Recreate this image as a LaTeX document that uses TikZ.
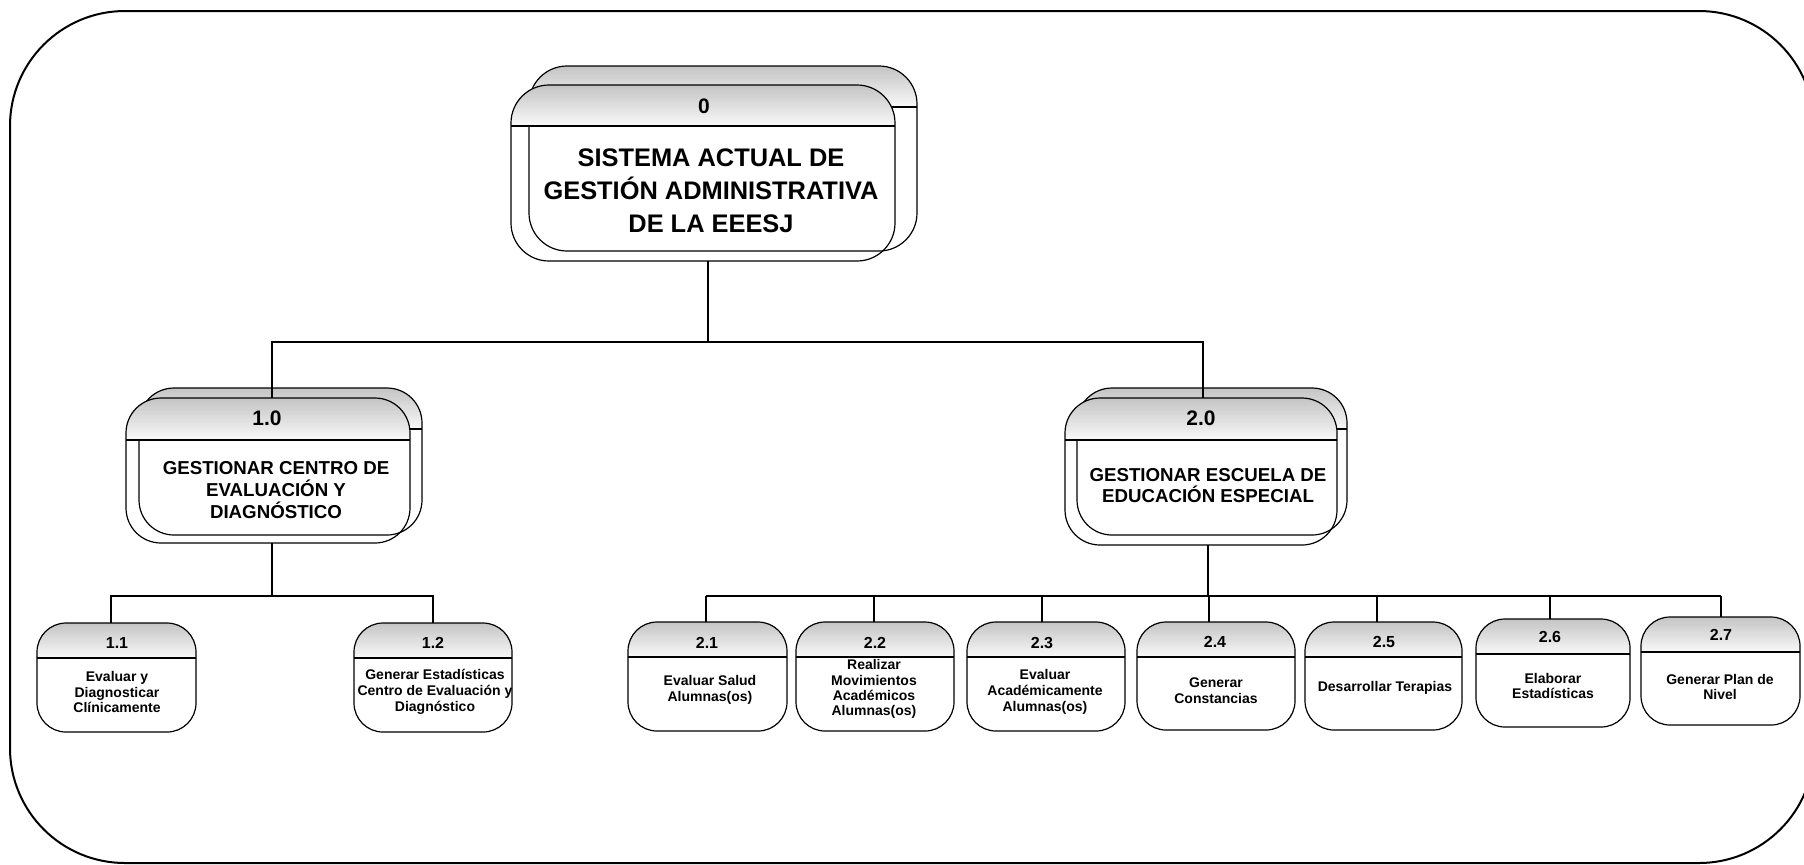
\documentclass[tikz,border=0pt]{standalone}
\usepackage{fontspec}
\setmainfont{Liberation Sans}
\definecolor{hdrtop}{RGB}{196,196,196}
\definecolor{hdrbot}{RGB}{247,247,247}
\tikzset{
  procbox/.style={draw=black, line width=0.6pt, rounded corners=#1, inner sep=0pt, outer sep=0pt, fill=white},
  procfront/.style={draw=black, line width=0.6pt, rounded corners=#1, inner sep=0pt, outer sep=0pt},
  hdr/.style={path picture={
      \foreach \i in {0,...,31} {
        \pgfmathtruncatemacro{\pct}{100-\i*100/31}
        \pgfmathsetlengthmacro{\ya}{-\i*#1/32}
        \pgfmathsetlengthmacro{\yb}{-(\i+1)*#1/32-0.3pt}
        \fill[sharp corners, hdrtop!\pct!hdrbot] ([yshift=\ya]path picture bounding box.north west) rectangle ([yshift=\yb]path picture bounding box.north east);
      }
      \pgfmathsetlengthmacro{\yh}{-#1}
      \draw[sharp corners, line width=0.6pt] ([yshift=\yh]path picture bounding box.north west) -- ([yshift=\yh]path picture bounding box.north east);
  }},
  conn/.style={draw=black, line width=0.55pt},
  numbig/.style={font=\fontsize{10.5}{12}\selectfont\bfseries, inner sep=0pt},
  numsmall/.style={font=\fontsize{8}{9}\selectfont\bfseries, inner sep=0pt},
  ttop/.style={font=\fontsize{12.7}{16.5}\selectfont\bfseries, align=center, inner sep=0pt},
  tmid/.style={font=\fontsize{9.35}{10.9}\selectfont\bfseries, align=center, inner sep=0pt},
  tsmall/.style={font=\fontsize{7}{7.9}\selectfont\bfseries, align=center, inner sep=0pt},
}
\begin{document}
\begin{tikzpicture}[x=0.5pt, y=-0.5pt]
\useasboundingbox (0,0) rectangle (1804,864);
\clip (0,0) rectangle (1804,864);
% outer frame
\draw[line width=1pt, rounded corners=57.5pt] (10,11) rectangle (1814,863);

% back shapes
\node[procbox=19pt, hdr=20.5pt, minimum width=194pt, minimum height=92.5pt] (n0b) at (723,158.5) {};
\node[procbox=17.5pt, hdr=20.5pt, minimum width=141.5pt, minimum height=73.5pt] (n1b) at (280.5,461.5) {};
\node[procbox=17.5pt, hdr=20.5pt, minimum width=135pt, minimum height=73.5pt] (n2b) at (1212,461.5) {};

% front shapes
\node[procfront=19pt, hdr=20.5pt, minimum width=192pt, minimum height=88pt] (n0) at (703,173) {};
\node[procfront=17.5pt, hdr=21pt, minimum width=142pt, minimum height=72.5pt] (n1) at (268,470.5) {};
\node[procfront=17.5pt, hdr=21pt, minimum width=136pt, minimum height=73.5pt] (n2) at (1201,471.5) {};

% small boxes
\node[procbox=14.5pt, hdr=17.5pt, minimum width=79.5pt, minimum height=54.5pt] (n11) at (116.5,677.5) {};
\node[procbox=14.5pt, hdr=17.5pt, minimum width=79pt, minimum height=54.5pt] (n12) at (433,677.5) {};
\node[procbox=14.5pt, hdr=17.5pt, minimum width=79.5pt, minimum height=54.5pt] (n21) at (707.5,676.5) {};
\node[procbox=14.5pt, hdr=17.5pt, minimum width=79pt, minimum height=54.5pt] (n22) at (875,676.5) {};
\node[procbox=14.5pt, hdr=17.5pt, minimum width=79pt, minimum height=54.5pt] (n23) at (1046,676.5) {};
\node[procbox=14.5pt, hdr=17.5pt, minimum width=79pt, minimum height=54pt] (n24) at (1216,676) {};
\node[procbox=14.5pt, hdr=17.5pt, minimum width=78.5pt, minimum height=54pt] (n25) at (1383.5,676) {};
\node[procbox=14.5pt, hdr=17.5pt, minimum width=77pt, minimum height=54pt] (n26) at (1553,673) {};
\node[procbox=14.5pt, hdr=17.5pt, minimum width=79.5pt, minimum height=54pt] (n27) at (1720.5,671) {};

% texts
\node[numbig] (l0) at (704,106) {0};
\node[ttop] (t0) at (711,191) {SISTEMA ACTUAL DE\\GESTIÓN ADMINISTRATIVA\\DE LA EEESJ};
\node[numbig] (l1) at (267,418.5) {1.0};
\node[tmid] (t1) at (276,490) {GESTIONAR CENTRO DE\\EVALUACIÓN Y\\DIAGNÓSTICO};
\node[numbig] (l2) at (1201,418.5) {2.0};
\node[tmid] (t2) at (1208,485.5) {GESTIONAR ESCUELA DE\\EDUCACIÓN ESPECIAL};

\node[numsmall] (l11) at (117,643) {1.1};
\node[tsmall] (t11) at (117,692) {Evaluar y\\Diagnosticar\\Clínicamente};
\node[numsmall] (l12) at (433,643) {1.2};
\node[tsmall] (t12) at (435,692) {Generar Estadísticas\\Centro de Evaluación y\\Diagnóstico};
\node[numsmall] (l21) at (707,643) {2.1};
\node[tsmall] (t21) at (710,690) {Evaluar Salud\\Alumnas(os)};
\node[numsmall] (l22) at (875,643) {2.2};
\node[tsmall, font=\fontsize{7}{7.6}\selectfont\bfseries] (t22) at (874,689) {Realizar\\Movimientos\\Académicos\\Alumnas(os)};
\node[numsmall] (l23) at (1042,643) {2.3};
\node[tsmall] (t23) at (1045,692) {Evaluar\\Académicamente\\Alumnas(os)};
\node[numsmall] (l24) at (1215,642) {2.4};
\node[tsmall] (t24) at (1216,691) {Generar\\Constancias};
\node[numsmall] (l25) at (1384,642) {2.5};
\node[tsmall] (t25) at (1385,688) {Desarrollar Terapias};
\node[numsmall] (l26) at (1550,637) {2.6};
\node[tsmall] (t26) at (1553,686) {Elaborar\\Estadísticas};
\node[numsmall] (l27) at (1721,635) {2.7};
\node[tsmall] (t27) at (1720,687) {Generar Plan de\\Nivel};

% connectors level 0 -> 1
\coordinate (j0) at (708,342);
\coordinate (a1) at (272,342);
\coordinate (a2) at (1203,342);
\draw[conn] (j0 |- n0.south) -- (j0);
\draw[conn] (n1.north -| a1) -- (a1) -- (a2) -- (a2 |- n2.north);

% connectors 1.0 -> 1.x
\coordinate (j1) at (272,596);
\coordinate (b11) at (111,596);
\coordinate (b12) at (433,596);
\draw[conn] (j1 |- n1.south) -- (j1);
\draw[conn] (b11 |- n11.north) -- (b11) -- (b12) -- (b12 |- n12.north);

% connectors 2.0 -> 2.x
\coordinate (j2) at (1208,596);
\coordinate (c21) at (706,596);
\coordinate (c22) at (874,596);
\coordinate (c23) at (1042,596);
\coordinate (c24) at (1209,596);
\coordinate (c25) at (1377,596);
\coordinate (c26) at (1550,596);
\coordinate (c27) at (1721,596);
\draw[conn] (j2 |- n2.south) -- (j2);
\draw[conn] (c21) -- (c27);
\foreach \k in {21,22,23,24,25,26,27} {
  \draw[conn] (c\k) -- (c\k |- n\k.north);
}
\end{tikzpicture}
\end{document}
